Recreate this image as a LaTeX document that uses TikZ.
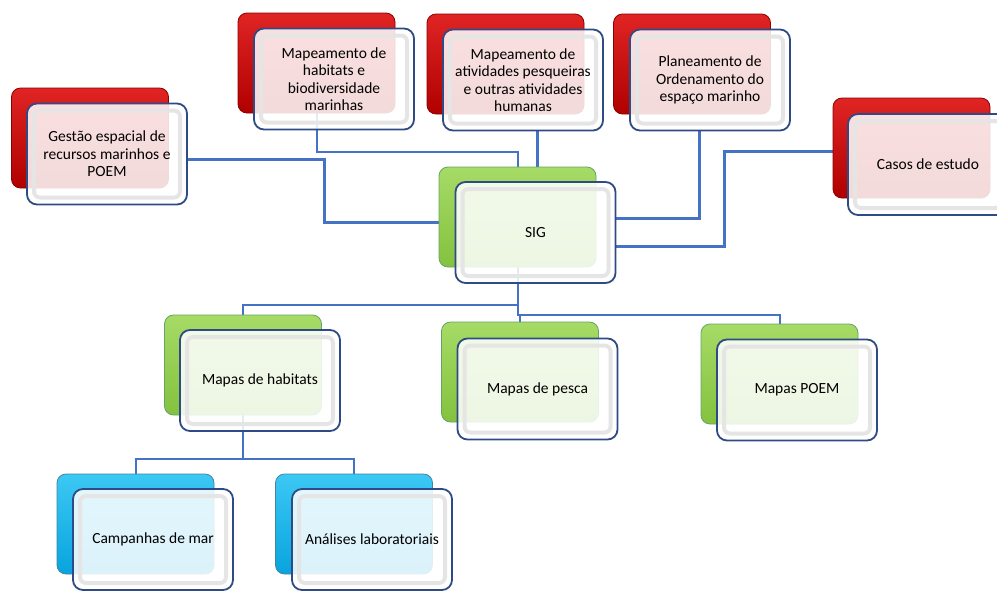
\documentclass[tikz,border=0pt]{standalone}
\usepackage{fontspec}
\setmainfont{Carlito}
\usepackage{xcolor}
\usepackage{tikz}
\usetikzlibrary{calc, positioning, backgrounds}

\definecolor{linkblue}{HTML}{4472C4}
\definecolor{boxedge}{HTML}{2F4B85}
\definecolor{redhi}{HTML}{E02424}
\definecolor{redlo}{HTML}{B00000}
\definecolor{greenhi}{HTML}{A6DB66}
\definecolor{greenlo}{HTML}{84C23E}
\definecolor{bluehi}{HTML}{3CC8F4}
\definecolor{bluelo}{HTML}{08A4DE}

\begin{document}
\begin{tikzpicture}[x=1pt, y=-1pt,
		back/.style={minimum width=157pt, minimum height=100pt, rounded corners=9pt, inner sep=0pt, line width=.8pt},
		redback/.style={back, draw=red!55!black, top color=redhi, bottom color=redlo},
		greenback/.style={back, draw=green!40!black!60, top color=greenhi, bottom color=greenlo},
		blueback/.style={back, draw=cyan!60!black, top color=bluehi, bottom color=bluelo},
		front/.style={minimum width=160pt, minimum height=101pt, rounded corners=10pt, inner sep=0pt,
			draw=boxedge, line width=1.8pt, fill=white, fill opacity=.86, text opacity=1, align=center,
			font=\fontsize{15.5}{17.5}\selectfont,
			path picture={\draw[black!10, line width=4pt, rounded corners=6pt]
				([shift={(7pt,-7pt)}]path picture bounding box.north west) rectangle
				([shift={(-7pt,7pt)}]path picture bounding box.south east);}},
		linkthick/.style={draw=linkblue, line width=3pt},
		linkthin/.style={draw=linkblue, line width=2pt}]
	\useasboundingbox (0,0) rectangle (997,590);

	% red boxes
	\node[redback] (gestb) at (90,138) {};
	\node[redback] (mhabb) at (316.5,63) {};
	\node[redback] (pesqb) at (505.5,64) {};
	\node[redback] (planb) at (692,64) {};
	\node[redback] (casosb) at (911.5,148) {};
	\node[front] (gest) at (107,154) {Gestão espacial de\\recursos marinhos e\\POEM};
	\node[front] (mhab) at (334,79) {Mapeamento de\\habitats e\\biodiversidade\\marinhas};
	\node[front] (pesq) at (523,80) {Mapeamento de\\atividades pesqueiras\\e outras atividades\\humanas};
	\node[front] (plan) at (710,80) {Planeamento de\\Ordenamento do\\espaço marinho};
	\node[front] (casos) at (928,164.5) {Casos de estudo};

	% green boxes
	\node[greenback] (sigb) at (517.5,217) {};
	\node[greenback] (mhb) at (243,365) {};
	\node[greenback] (pescab) at (520,372) {};
	\node[greenback] (poemb) at (779.5,374) {};
	\node[front] (sig) at (535.5,232.5) {SIG};
	\node[front] (mh) at (260,380.5) {Mapas de habitats};
	\node[front] (pesca) at (537.5,389) {Mapas de pesca};
	\node[front] (poem) at (797,390) {Mapas POEM};

	% blue boxes
	\node[blueback] (campb) at (135.5,524) {};
	\node[blueback] (analb) at (354,524) {};
	\node[front] (camp) at (153,539.5) {Campanhas de mar};
	\node[front] (anal) at (372,539.5) {Análises laboratoriais};

	% connectors
	\begin{pgfonlayer}{background}
		\draw[linkthick] ([yshift=-5pt]gest.east) -- ++(137,0) |- ([yshift=10pt]sig.west);
		\draw[linkthin] (mhabb.south) -- ++(0,39) -| (sigb.north);
		\draw[linkthick] ([xshift=14pt]pesq.south) -- ++(0,37);
		\draw[linkthick] ([xshift=-11pt]plan.south) |- ([yshift=14pt]sig.east);
		\draw[linkthick] ([yshift=-3pt]casosb.west) -- ++(-108,0) |- ([yshift=-14pt]sig.east);
		\draw[linkthin] (sigb.south) -- ++(0,38) -| (mhb.north);
		\draw[linkthin] (sigb.south) -- ++(0,48) -| (pescab.north);
		\draw[linkthin] (sigb.south) -- ++(0,48) -| (poemb.north);
		\draw[linkthin] (mhb.south) -- ++(0,44) -| (campb.north);
		\draw[linkthin] (mhb.south) -- ++(0,44) -| (analb.north);
	\end{pgfonlayer}
\end{tikzpicture}
\end{document}
